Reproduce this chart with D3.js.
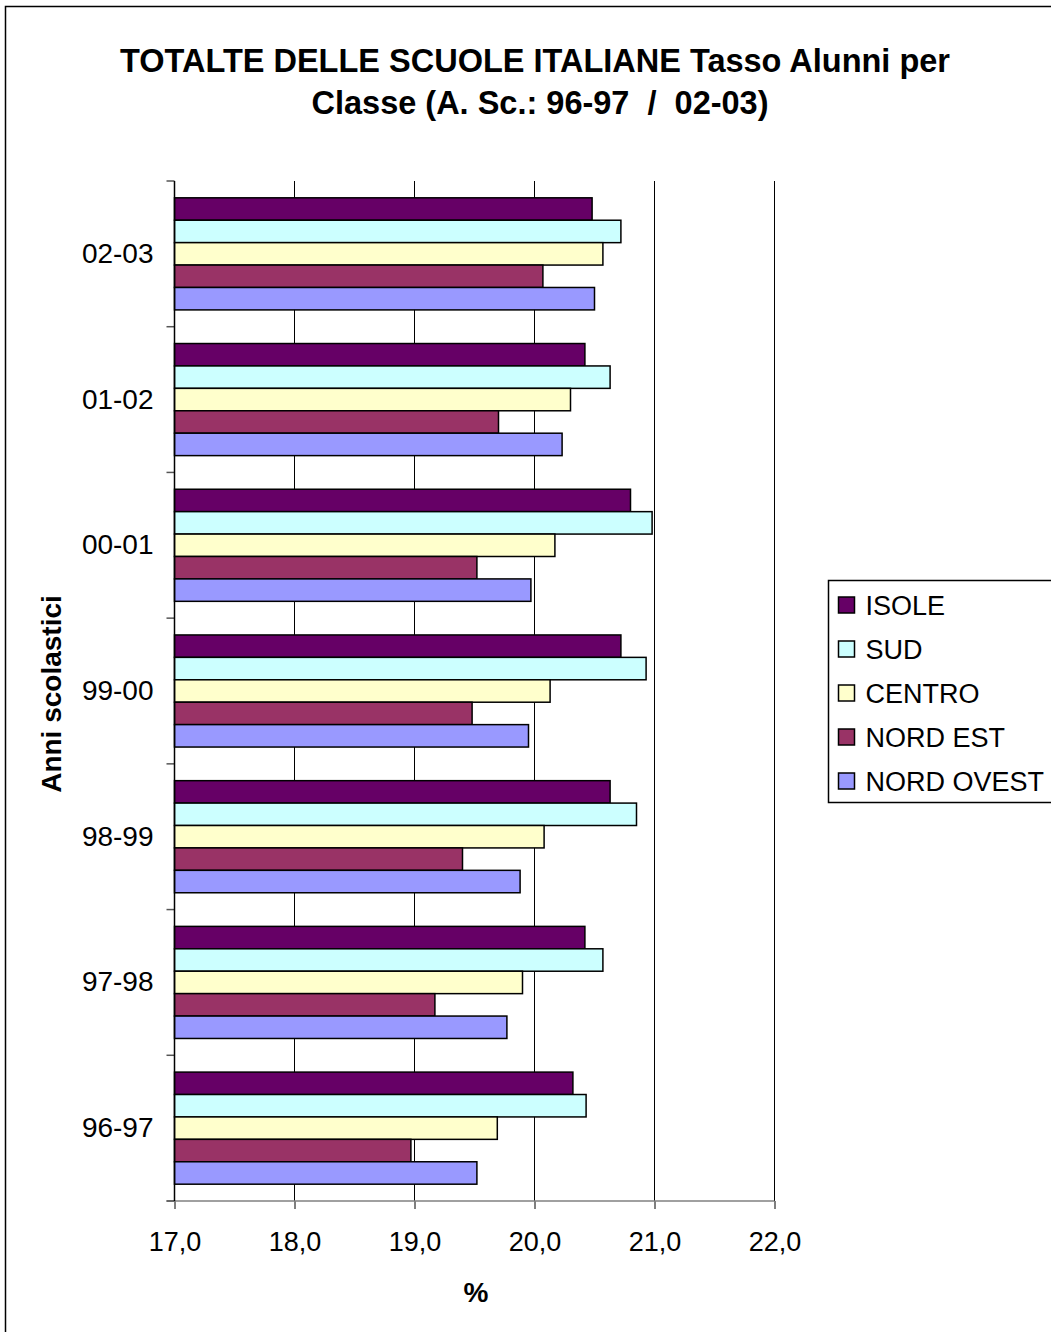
<!DOCTYPE html>
<html>
<head>
<meta charset="utf-8">
<script src="https://cdn.jsdelivr.net/npm/d3@7/dist/d3.min.js"></script>
<style>
    body { margin: 0; background: #ffffff; }
    text { font-family: "Liberation Sans", Arial, sans-serif; fill: #000000; }
</style>
</head>
<body>
<div id="chart"></div>
<script>
// values
var categories = ["96-97", "97-98", "98-99", "99-00", "00-01", "01-02", "02-03"];
var isole = [20.32, 20.42, 20.63, 20.72, 20.80, 20.42, 20.48];
var sud = [20.43, 20.57, 20.85, 20.93, 20.98, 20.63, 20.72];
var centro = [19.69, 19.90, 20.08, 20.13, 20.17, 20.30, 20.57];
var nordEst = [18.97, 19.17, 19.40, 19.48, 19.52, 19.70, 20.07];
var nordOvest = [19.52, 19.77, 19.88, 19.95, 19.97, 20.23, 20.50];
var seriesNames = ["ISOLE", "SUD", "CENTRO", "NORD EST", "NORD OVEST"];
var seriesColors = ["#660066", "#CCFFFF", "#FFFFCC", "#993366", "#9999FF"];
var xTicks = [17, 18, 19, 20, 21, 22];
var titleLines = ["TOTALTE DELLE SCUOLE ITALIANE Tasso Alunni per", "Classe (A. Sc.: 96-97  /  02-03)"];

var seriesValues = [isole, sud, centro, nordEst, nordOvest];

var width = 1051, height = 1332;
var plot = { left: 174.5, right: 774.5, top: 181, bottom: 1201 };

var svg = d3.select("#chart").append("svg")
    .attr("width", width)
    .attr("height", height);

svg.append("rect")
    .attr("width", width)
    .attr("height", height)
    .attr("fill", "#ffffff");

// outer chart border (runs off right and bottom edge)
svg.append("rect")
    .attr("x", 5.5).attr("y", 6.5)
    .attr("width", 1100).attr("height", 1340)
    .attr("fill", "none")
    .attr("stroke", "#000")
    .attr("stroke-width", 1.5);

var itLocale = d3.formatLocale({ decimal: ",", thousands: ".", grouping: [3], currency: ["", " €"] });
var fmt = itLocale.format(".1f");

var x = d3.scaleLinear().domain([17, 22]).range([plot.left, plot.right]);
var y = d3.scaleBand().domain(categories.slice().reverse()).range([plot.top, plot.bottom]);
var yInner = d3.scaleBand().domain(seriesNames).range([0, y.bandwidth()]).paddingInner(0).paddingOuter(0.75);

// gridlines
svg.append("g").selectAll("line")
    .data(xTicks.slice(1))
    .enter().append("line")
    .attr("x1", function (d) { return x(d); })
    .attr("x2", function (d) { return x(d); })
    .attr("y1", plot.top)
    .attr("y2", plot.bottom)
    .attr("stroke", "#000")
    .attr("stroke-width", 1);

// bars
var groups = svg.append("g").selectAll("g")
    .data(categories)
    .enter().append("g")
    .attr("transform", function (d) { return "translate(0," + y(d) + ")"; });

groups.selectAll("rect")
    .data(function (d, i) {
        return seriesNames.map(function (s, j) {
            return { name: s, value: seriesValues[j][i], color: seriesColors[j] };
        });
    })
    .enter().append("rect")
    .attr("x", x(17))
    .attr("y", function (d) { return yInner(d.name); })
    .attr("width", function (d) { return x(d.value) - x(17); })
    .attr("height", yInner.bandwidth())
    .attr("fill", function (d) { return d.color; })
    .attr("stroke", "#000")
    .attr("stroke-width", 1.5);

// x axis
var xAxis = svg.append("g")
    .attr("transform", "translate(0," + plot.bottom + ")")
    .call(d3.axisBottom(x).tickValues(xTicks).tickFormat(fmt).tickSize(8).tickPadding(23));
xAxis.select(".domain").remove();
xAxis.selectAll(".tick line").attr("stroke", "#000");
xAxis.selectAll(".tick text")
    .style("font-family", "'Liberation Sans', Arial, sans-serif")
    .style("font-size", "27px")
    .attr("fill", "#000");

svg.append("line")
    .attr("x1", plot.left - 8).attr("x2", plot.right)
    .attr("y1", plot.bottom).attr("y2", plot.bottom)
    .attr("stroke", "#808080")
    .attr("stroke-width", 1.5);

// y axis: labels at band centres, ticks on band edges
var yAxis = svg.append("g")
    .attr("transform", "translate(" + plot.left + ",0)")
    .call(d3.axisLeft(y).tickSize(0).tickPadding(21));
yAxis.select(".domain").remove();
yAxis.selectAll(".tick text")
    .style("font-family", "'Liberation Sans', Arial, sans-serif")
    .style("font-size", "28px")
    .attr("fill", "#000");

var edges = y.domain().map(function (d) { return y(d); }).concat([plot.bottom]);
svg.append("g").selectAll("line")
    .data(edges)
    .enter().append("line")
    .attr("x1", plot.left - 8).attr("x2", plot.left)
    .attr("y1", function (d) { return d; })
    .attr("y2", function (d) { return d; })
    .attr("stroke", "#555")
    .attr("stroke-width", 1.5);

svg.append("line")
    .attr("x1", plot.left).attr("x2", plot.left)
    .attr("y1", plot.top).attr("y2", plot.bottom)
    .attr("stroke", "#000")
    .attr("stroke-width", 1.5);

// titles
svg.append("g").selectAll("text")
    .data(titleLines)
    .enter().append("text")
    .attr("x", function (d, i) { return i === 0 ? 535 : 540; })
    .attr("y", function (d, i) { return 72 + i * 42; })
    .attr("text-anchor", "middle")
    .style("font-size", "32.5px")
    .style("font-weight", "bold")
    .style("white-space", "pre")
    .text(function (d) { return d; });

svg.append("text")
    .attr("x", 476)
    .attr("y", 1302)
    .attr("text-anchor", "middle")
    .style("font-size", "28px")
    .style("font-weight", "bold")
    .text("%");

svg.append("text")
    .attr("transform", "translate(61,694) rotate(-90)")
    .attr("text-anchor", "middle")
    .style("font-size", "28px")
    .style("font-weight", "bold")
    .text("Anni scolastici");

// legend
var legend = svg.append("g").attr("transform", "translate(828.5,580.5)");
legend.append("rect")
    .attr("width", 240).attr("height", 222)
    .attr("fill", "#fff")
    .attr("stroke", "#000")
    .attr("stroke-width", 1.5);

var items = legend.selectAll(".item")
    .data(seriesNames)
    .enter().append("g")
    .attr("class", "item")
    .attr("transform", function (d, i) { return "translate(0," + (24.5 + i * 44) + ")"; });

items.append("rect")
    .attr("x", 10).attr("y", -8)
    .attr("width", 16).attr("height", 16)
    .attr("fill", function (d, i) { return seriesColors[i]; })
    .attr("stroke", "#000")
    .attr("stroke-width", 1.5);

items.append("text")
    .attr("x", 37)
    .attr("dy", "0.36em")
    .style("font-size", "27px")
    .text(function (d) { return d; });
</script>
</body>
</html>
